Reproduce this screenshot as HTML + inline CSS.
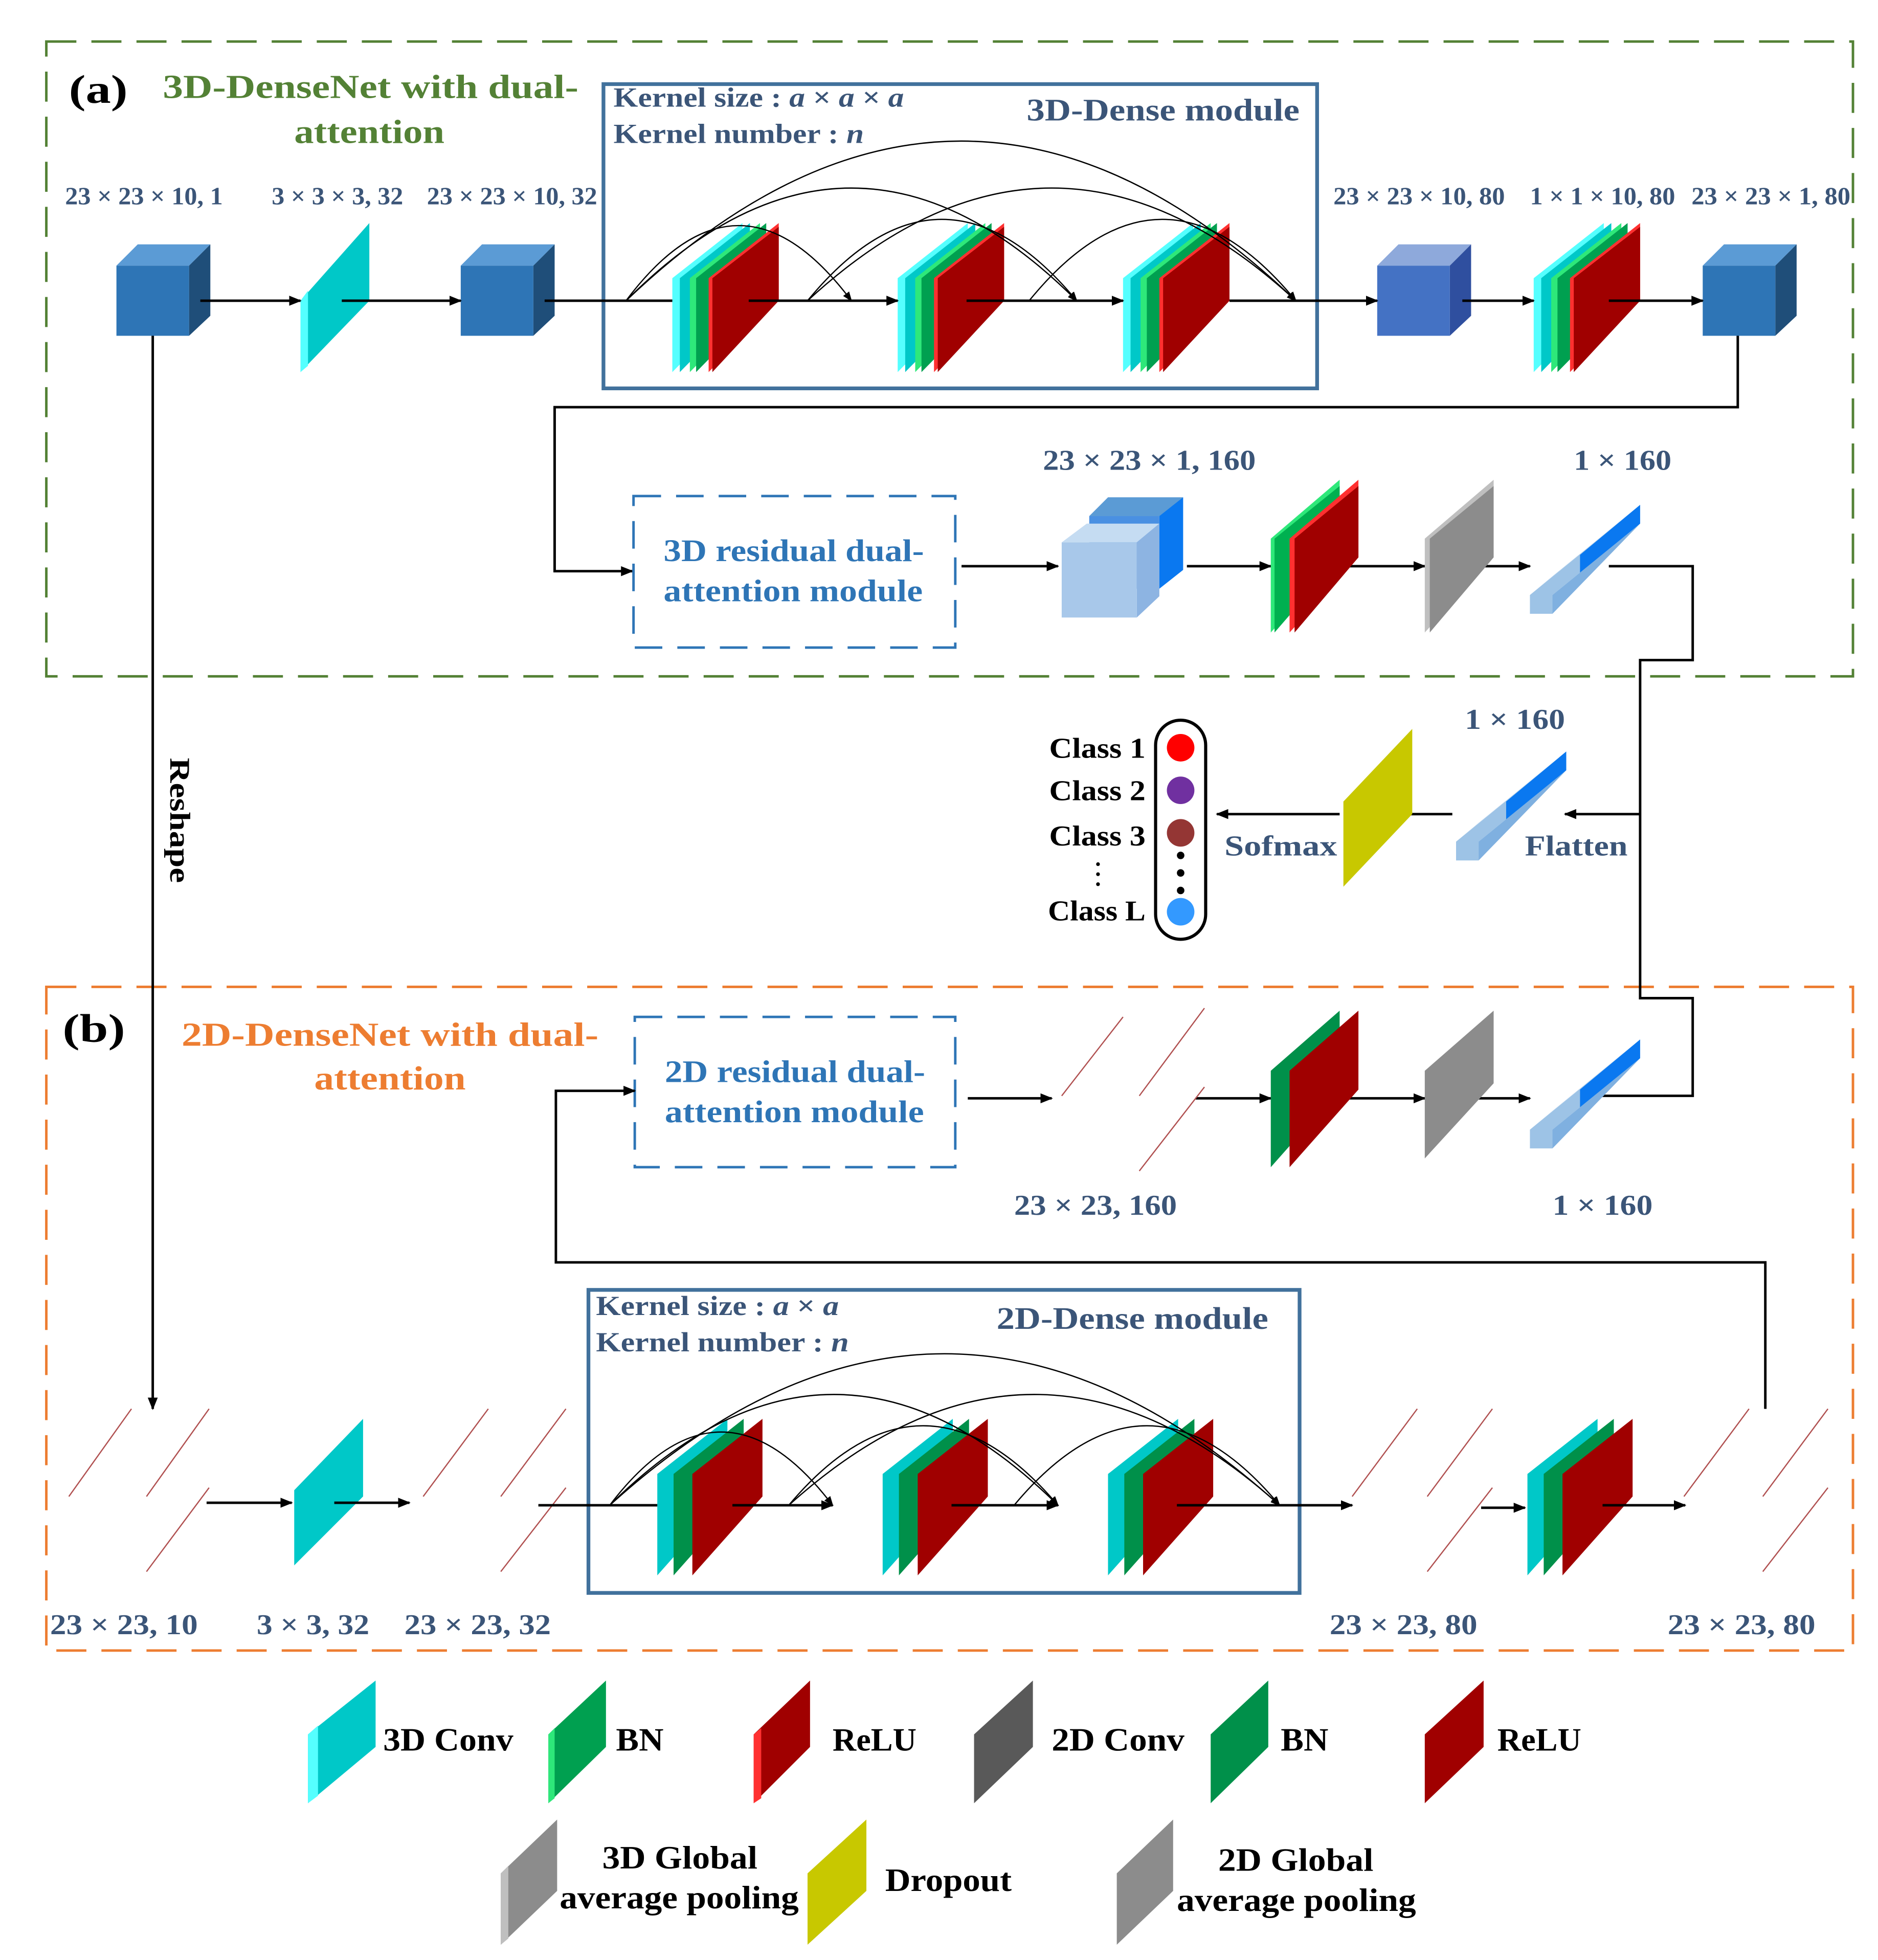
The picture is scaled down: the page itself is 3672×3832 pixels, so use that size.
<!DOCTYPE html>
<html><head><meta charset="utf-8"><style>
html,body{margin:0;padding:0;background:#fff}
svg{display:block}
text{font-family:"Liberation Serif",serif;font-weight:bold}
.lb{fill:#3b5578}
.lg{fill:#000}
</style></head><body>
<svg width="3672" height="3832" viewBox="0 0 1500 1565" xmlns="http://www.w3.org/2000/svg">
<defs>
<marker id="ah" markerWidth="10" markerHeight="8" refX="9" refY="4" orient="auto" markerUnits="userSpaceOnUse"><path d="M0,0L10,4L0,8z" fill="#000"/></marker>
<marker id="ahs" markerWidth="8" markerHeight="6" refX="7" refY="3" orient="auto" markerUnits="userSpaceOnUse"><path d="M0,0L8,3L0,6z" fill="#000"/></marker>
<g id="st3">
<polygon points="0,44 56,0 56,62 0,119" fill="#5ff"/>
<polygon points="6,44 62,0 62,62 6,119" fill="#00c8c8"/>
<polygon points="14,44 70,0 70,62 14,119" fill="#2ee87a"/>
<polygon points="19,44 75,0 75,62 19,119" fill="#00a050"/>
<polygon points="29,44 85,0 85,62 29,119" fill="#ff3030"/>
<polygon points="32,44 85,3 85,62 32,119" fill="#a00000"/>
</g>
<g id="st2">
<polygon points="0,44 56,0 56,62 0,125" fill="#00c8c8"/>
<polygon points="13,44 69,0 69,62 13,125" fill="#00904a"/>
<polygon points="28,44 84,0 84,62 28,125" fill="#a00000"/>
</g>
<g id="cube">
<polygon points="0,17 17,0 75,0 58,17" fill="#5b9bd5"/>
<polygon points="58,17 75,0 75,57 58,73" fill="#1f4e79"/>
<rect x="0" y="17" width="58" height="56" fill="#2e75b6"/>
</g>
<g id="bar">
<polygon points="0,72 70,15 88,0 88,15 18,72 0,87" fill="#9dc3e6"/>
<polygon points="0,72 18,72 18,87 0,87" fill="#9dc3e6"/>
<polygon points="0,72 70,15 88,0 18,57" fill="#c5dcf2"/>
<polygon points="40,40 88,0 88,15 40,55" fill="#0a78f0"/>
<polygon points="18,72 88,15 88,15 18,87" fill="#7fb0e0"/>
</g>
</defs>

<rect x="37" y="33" width="1443" height="507" fill="none" stroke="#538135" stroke-width="2" stroke-dasharray="24,12"/>
<rect x="37" y="788" width="1443" height="530" fill="none" stroke="#ed7d31" stroke-width="2" stroke-dasharray="24,12"/>

<text x="55" y="82" style="font-size:32px" fill="#000" textLength="47" lengthAdjust="spacingAndGlyphs">(a)</text>
<text x="130" y="78" style="font-size:27px" fill="#538135" textLength="332" lengthAdjust="spacingAndGlyphs">3D-DenseNet with dual-</text>
<text x="235" y="114" style="font-size:27px" fill="#538135" textLength="120" lengthAdjust="spacingAndGlyphs">attention</text>

<g style="font-size:20px">
<text class="lb" x="52" y="163" textLength="126" lengthAdjust="spacingAndGlyphs">23 × 23 × 10, 1</text>
<text class="lb" x="217" y="163" textLength="105" lengthAdjust="spacingAndGlyphs">3 × 3 × 3, 32</text>
<text class="lb" x="341" y="163" textLength="136" lengthAdjust="spacingAndGlyphs">23 × 23 × 10, 32</text>
<text class="lb" x="1065" y="163" textLength="137" lengthAdjust="spacingAndGlyphs">23 × 23 × 10, 80</text>
<text class="lb" x="1222" y="163" textLength="116" lengthAdjust="spacingAndGlyphs">1 × 1 × 10, 80</text>
<text class="lb" x="1351" y="163" textLength="127" lengthAdjust="spacingAndGlyphs">23 × 23 × 1, 80</text>
</g>

<rect x="482" y="67" width="570" height="243" fill="none" stroke="#41719c" stroke-width="3"/>
<text class="lb" x="490" y="85" style="font-size:22px" textLength="232" lengthAdjust="spacingAndGlyphs">Kernel size : <tspan font-style="italic">a</tspan> × <tspan font-style="italic">a</tspan> × <tspan font-style="italic">a</tspan></text>
<text class="lb" x="490" y="114" style="font-size:22px" textLength="200" lengthAdjust="spacingAndGlyphs">Kernel number : <tspan font-style="italic">n</tspan></text>
<text class="lb" x="820" y="96" style="font-size:25px" textLength="218" lengthAdjust="spacingAndGlyphs">3D-Dense module</text>

<use href="#cube" x="93" y="195"/>
<polygon points="240,240 295,178 295,240 240,297" fill="#00c8c8"/>
<polygon points="240,240 246,232 246,292 240,297" fill="#5ff"/>
<use href="#cube" x="368" y="195"/>
<use href="#st3" x="537" y="178"/>
<use href="#st3" x="717" y="178"/>
<use href="#st3" x="897" y="178"/>
<g><polygon points="1100,212 1117,195 1175,195 1158,212" fill="#8ea9db"/><polygon points="1158,212 1175,195 1175,252 1158,268" fill="#2f4f9f"/><rect x="1100" y="212" width="58" height="56" fill="#4472c4"/></g>
<use href="#st3" x="1225" y="178"/>
<use href="#cube" x="1360" y="195"/>

<g stroke="#000" stroke-width="2" fill="none">
<line x1="160" y1="240" x2="240" y2="240" marker-end="url(#ah)"/>
<line x1="273" y1="240" x2="368" y2="240" marker-end="url(#ah)"/>
<line x1="435" y1="240" x2="537" y2="240"/>
<line x1="598" y1="240" x2="717" y2="240" marker-end="url(#ah)"/>
<line x1="772" y1="240" x2="897" y2="240" marker-end="url(#ah)"/>
<line x1="982" y1="240" x2="1100" y2="240" marker-end="url(#ah)"/>
<line x1="1168" y1="240" x2="1225" y2="240" marker-end="url(#ah)"/>
<line x1="1285" y1="240" x2="1360" y2="240" marker-end="url(#ah)"/>
<polyline points="1388,268 1388,325 443,325 443,456 505,456" marker-end="url(#ah)"/>
<line x1="122" y1="268" x2="122" y2="1125" marker-end="url(#ah)"/>
</g>
<g stroke="#000" stroke-width="1" fill="none">
<path d="M500,240 Q590,120 680,240" marker-end="url(#ahs)"/>
<path d="M500,240 Q680,60 860,240" marker-end="url(#ahs)"/>
<path d="M500,240 Q768,-15 1035,240" marker-end="url(#ahs)"/>
<path d="M645,240 Q752,110 860,240" marker-end="url(#ahs)"/>
<path d="M645,240 Q840,60 1035,240" marker-end="url(#ahs)"/>
<path d="M822,240 Q928,110 1035,240" marker-end="url(#ahs)"/>
</g>

<rect x="506" y="396" width="257" height="121" fill="none" stroke="#2e75b6" stroke-width="2" stroke-dasharray="22,12"/>
<text x="530" y="448" style="font-size:25px" fill="#2e75b6" textLength="208" lengthAdjust="spacingAndGlyphs">3D residual dual-</text>
<text x="530" y="480" style="font-size:25px" fill="#2e75b6" textLength="207" lengthAdjust="spacingAndGlyphs">attention module</text>
<text class="lb" x="833" y="375" style="font-size:23px" textLength="170" lengthAdjust="spacingAndGlyphs">23 × 23 × 1, 160</text>
<text class="lb" x="1257" y="375" style="font-size:23px" textLength="78" lengthAdjust="spacingAndGlyphs">1 × 160</text>
<g stroke="#000" stroke-width="2" fill="none">
<line x1="768" y1="452" x2="845" y2="452" marker-end="url(#ah)"/>
<line x1="948" y1="452" x2="1015" y2="452" marker-end="url(#ah)"/>
<line x1="1066" y1="452" x2="1138" y2="452" marker-end="url(#ah)"/>
<line x1="1172" y1="452" x2="1222" y2="452" marker-end="url(#ah)"/>
<polyline points="1285,452 1352,452 1352,527 1310,527 1310,797 1352,797 1352,875 1272,875"/>
<line x1="1310" y1="650" x2="1250" y2="650" marker-end="url(#ah)"/>
<line x1="1160" y1="650" x2="1105" y2="650" marker-end="url(#ah)"/>
<line x1="1070" y1="650" x2="972" y2="650" marker-end="url(#ah)"/>
</g>
<polygon points="870,412 885,397 945,397 930,412" fill="#5b9bd5"/>
<polygon points="926,412 945,397 945,455 926,470" fill="#0a78f0"/>
<rect x="870" y="412" width="56" height="58" fill="#4a90e2"/>
<polygon points="848,433 868,418 926,418 908,433" fill="#c5dcf2"/>
<polygon points="908,433 926,418 926,476 908,493" fill="#8db4e2"/>
<rect x="848" y="433" width="60" height="60" fill="#a8c8ea"/>
<polygon points="1015,430 1070,383 1070,445 1015,505" fill="#2ee87a"/>
<polygon points="1018,430 1070,388 1070,445 1018,505" fill="#00b050"/>
<polygon points="1030,430 1085,383 1085,445 1030,505" fill="#ff3030"/>
<polygon points="1034,430 1085,388 1085,445 1034,505" fill="#a00000"/>
<polygon points="1138,430 1193,383 1193,445 1138,505" fill="#bfbfbf"/>
<polygon points="1142,430 1193,388 1193,445 1142,505" fill="#8c8c8c"/>
<use href="#bar" x="1222" y="403"/>

<text class="lb" x="1170" y="582" style="font-size:23px" textLength="80" lengthAdjust="spacingAndGlyphs">1 × 160</text>
<use href="#bar" x="1163" y="600"/>
<text class="lb" x="1218" y="683" style="font-size:23px" textLength="82" lengthAdjust="spacingAndGlyphs">Flatten</text>
<polygon points="1073,640 1128,582 1128,650 1073,708" fill="#c8c800"/>
<text class="lb" x="978" y="683" style="font-size:23px" textLength="90" lengthAdjust="spacingAndGlyphs">Sofmax</text>
<rect x="923" y="575" width="40" height="175" rx="20" fill="none" stroke="#000" stroke-width="2.5"/>
<circle cx="943" cy="597" r="11" fill="#ff0000"/>
<circle cx="943" cy="631" r="11" fill="#7030a0"/>
<circle cx="943" cy="665" r="11" fill="#943634"/>
<circle cx="943" cy="683" r="3" fill="#000"/><circle cx="943" cy="697" r="3" fill="#000"/><circle cx="943" cy="711" r="3" fill="#000"/>
<circle cx="943" cy="728" r="11" fill="#3399ff"/>
<g style="font-size:23px">
<text class="lg" x="838" y="605" textLength="77" lengthAdjust="spacingAndGlyphs">Class 1</text>
<text class="lg" x="838" y="639" textLength="77" lengthAdjust="spacingAndGlyphs">Class 2</text>
<text class="lg" x="838" y="675" textLength="77" lengthAdjust="spacingAndGlyphs">Class 3</text>
<text class="lg" x="837" y="735" textLength="78" lengthAdjust="spacingAndGlyphs">Class L</text>
</g>
<circle cx="877" cy="690" r="1.5"/><circle cx="877" cy="698" r="1.5"/><circle cx="877" cy="706" r="1.5"/>
<text x="0" y="0" style="font-size:23px" transform="translate(136,605) rotate(90)" textLength="100" lengthAdjust="spacingAndGlyphs">Reshape</text>

<text x="50" y="832" style="font-size:32px" fill="#000" textLength="50" lengthAdjust="spacingAndGlyphs">(b)</text>
<text x="145" y="835" style="font-size:27px" fill="#ed7d31" textLength="333" lengthAdjust="spacingAndGlyphs">2D-DenseNet with dual-</text>
<text x="251" y="870" style="font-size:27px" fill="#ed7d31" textLength="121" lengthAdjust="spacingAndGlyphs">attention</text>
<rect x="507" y="812" width="256" height="120" fill="none" stroke="#2e75b6" stroke-width="2" stroke-dasharray="22,12"/>
<text x="531" y="864" style="font-size:25px" fill="#2e75b6" textLength="208" lengthAdjust="spacingAndGlyphs">2D residual dual-</text>
<text x="531" y="896" style="font-size:25px" fill="#2e75b6" textLength="207" lengthAdjust="spacingAndGlyphs">attention module</text>
<g stroke="#000" stroke-width="2" fill="none">
<polyline points="1410,1125 1410,1008 444,1008 444,871 507,871" marker-end="url(#ah)"/>
<line x1="773" y1="877" x2="840" y2="877" marker-end="url(#ah)"/>
<line x1="955" y1="877" x2="1015" y2="877" marker-end="url(#ah)"/>
<line x1="1060" y1="877" x2="1138" y2="877" marker-end="url(#ah)"/>
<line x1="1168" y1="877" x2="1222" y2="877" marker-end="url(#ah)"/>
</g>
<g stroke="#b05050" stroke-width="1">
<line x1="848" y1="875" x2="897" y2="812"/><line x1="910" y1="875" x2="962" y2="805"/><line x1="910" y1="935" x2="962" y2="868"/>
<line x1="55" y1="1195" x2="105" y2="1125"/><line x1="117" y1="1195" x2="167" y2="1125"/><line x1="117" y1="1255" x2="167" y2="1188"/>
<line x1="338" y1="1195" x2="390" y2="1125"/><line x1="400" y1="1195" x2="452" y2="1125"/><line x1="400" y1="1255" x2="452" y2="1188"/>
<line x1="1080" y1="1195" x2="1132" y2="1125"/><line x1="1140" y1="1195" x2="1192" y2="1125"/><line x1="1140" y1="1255" x2="1192" y2="1188"/>
<line x1="1345" y1="1195" x2="1397" y2="1125"/><line x1="1408" y1="1195" x2="1460" y2="1125"/><line x1="1408" y1="1255" x2="1460" y2="1188"/>
</g>
<polygon points="1015,855 1070,807 1070,870 1015,932" fill="#00904a"/>
<polygon points="1030,855 1085,807 1085,870 1030,932" fill="#a00000"/>
<polygon points="1138,855 1193,807 1193,865 1138,925" fill="#8c8c8c"/>
<use href="#bar" x="1222" y="830"/>
<text class="lb" x="810" y="970" style="font-size:23px" textLength="130" lengthAdjust="spacingAndGlyphs">23 × 23, 160</text>
<text class="lb" x="1240" y="970" style="font-size:23px" textLength="80" lengthAdjust="spacingAndGlyphs">1 × 160</text>

<rect x="470" y="1030" width="568" height="242" fill="none" stroke="#41719c" stroke-width="3"/>
<text class="lb" x="476" y="1050" style="font-size:22px" textLength="194" lengthAdjust="spacingAndGlyphs">Kernel size : <tspan font-style="italic">a</tspan> × <tspan font-style="italic">a</tspan></text>
<text class="lb" x="476" y="1079" style="font-size:22px" textLength="202" lengthAdjust="spacingAndGlyphs">Kernel number : <tspan font-style="italic">n</tspan></text>
<text class="lb" x="796" y="1061" style="font-size:25px" textLength="217" lengthAdjust="spacingAndGlyphs">2D-Dense module</text>
<polygon points="235,1190 290,1133 290,1195 235,1250" fill="#00c8c8"/>
<use href="#st2" x="525" y="1133"/>
<use href="#st2" x="705" y="1133"/>
<use href="#st2" x="885" y="1133"/>
<use href="#st2" x="1220" y="1133"/>
<g stroke="#000" stroke-width="2" fill="none">
<line x1="165" y1="1200" x2="233" y2="1200" marker-end="url(#ah)"/>
<line x1="267" y1="1200" x2="327" y2="1200" marker-end="url(#ah)"/>
<line x1="430" y1="1202" x2="525" y2="1202"/>
<line x1="585" y1="1202" x2="665" y2="1202" marker-end="url(#ah)"/>
<line x1="760" y1="1202" x2="845" y2="1202" marker-end="url(#ah)"/>
<line x1="940" y1="1202" x2="1080" y2="1202" marker-end="url(#ah)"/>
<line x1="1183" y1="1204" x2="1218" y2="1204" marker-end="url(#ah)"/>
<line x1="1280" y1="1202" x2="1346" y2="1202" marker-end="url(#ah)"/>
</g>
<g stroke="#000" stroke-width="1" fill="none">
<path d="M487,1202 Q576,1085 665,1202" marker-end="url(#ahs)"/>
<path d="M487,1202 Q666,1025 845,1202" marker-end="url(#ahs)"/>
<path d="M487,1202 Q754,960 1022,1202" marker-end="url(#ahs)"/>
<path d="M630,1202 Q737,1075 845,1202" marker-end="url(#ahs)"/>
<path d="M630,1202 Q826,1025 1022,1202" marker-end="url(#ahs)"/>
<path d="M810,1202 Q916,1075 1022,1202" marker-end="url(#ahs)"/>
</g>
<g style="font-size:23px">
<text class="lb" x="40" y="1305" textLength="118" lengthAdjust="spacingAndGlyphs">23 × 23, 10</text>
<text class="lb" x="205" y="1305" textLength="90" lengthAdjust="spacingAndGlyphs">3 × 3, 32</text>
<text class="lb" x="323" y="1305" textLength="117" lengthAdjust="spacingAndGlyphs">23 × 23, 32</text>
<text class="lb" x="1062" y="1305" textLength="118" lengthAdjust="spacingAndGlyphs">23 × 23, 80</text>
<text class="lb" x="1332" y="1305" textLength="118" lengthAdjust="spacingAndGlyphs">23 × 23, 80</text>
</g>

<g style="font-size:26px">
<polygon points="246,1385 300,1342 300,1395 246,1440" fill="#00c8c8"/><polygon points="246,1385 254,1378 254,1434 246,1440" fill="#5ff"/>
<text class="lg" x="306" y="1398" textLength="104" lengthAdjust="spacingAndGlyphs">3D Conv</text>
<polygon points="438,1385 484,1342 484,1395 438,1440" fill="#00a050"/><polygon points="438,1385 443,1380 443,1436 438,1440" fill="#2ee87a"/>
<text class="lg" x="492" y="1398" textLength="38" lengthAdjust="spacingAndGlyphs">BN</text>
<polygon points="602,1385 647,1342 647,1395 602,1440" fill="#a00000"/><polygon points="602,1385 608,1380 608,1436 602,1440" fill="#ff3030"/>
<text class="lg" x="665" y="1398" textLength="67" lengthAdjust="spacingAndGlyphs">ReLU</text>
<polygon points="778,1385 825,1342 825,1395 778,1440" fill="#595959"/>
<text class="lg" x="840" y="1398" textLength="106" lengthAdjust="spacingAndGlyphs">2D Conv</text>
<polygon points="967,1385 1013,1342 1013,1395 967,1440" fill="#00904a"/>
<text class="lg" x="1023" y="1398" textLength="38" lengthAdjust="spacingAndGlyphs">BN</text>
<polygon points="1138,1385 1185,1342 1185,1395 1138,1440" fill="#a00000"/>
<text class="lg" x="1196" y="1398" textLength="67" lengthAdjust="spacingAndGlyphs">ReLU</text>
<polygon points="400,1496 445,1453 445,1510 400,1553" fill="#8c8c8c"/><polygon points="400,1496 406,1490 406,1548 400,1553" fill="#bfbfbf"/>
<text class="lg" x="481" y="1492" textLength="124" lengthAdjust="spacingAndGlyphs">3D Global</text>
<text class="lg" x="447" y="1524" textLength="191" lengthAdjust="spacingAndGlyphs">average pooling</text>
<polygon points="645,1496 692,1453 692,1510 645,1553" fill="#c8c800"/>
<text class="lg" x="707" y="1510" textLength="101" lengthAdjust="spacingAndGlyphs">Dropout</text>
<polygon points="892,1496 937,1453 937,1510 892,1553" fill="#8c8c8c"/>
<text class="lg" x="973" y="1494" textLength="124" lengthAdjust="spacingAndGlyphs">2D Global</text>
<text class="lg" x="940" y="1526" textLength="191" lengthAdjust="spacingAndGlyphs">average pooling</text>
</g>
</svg>
</body></html>
